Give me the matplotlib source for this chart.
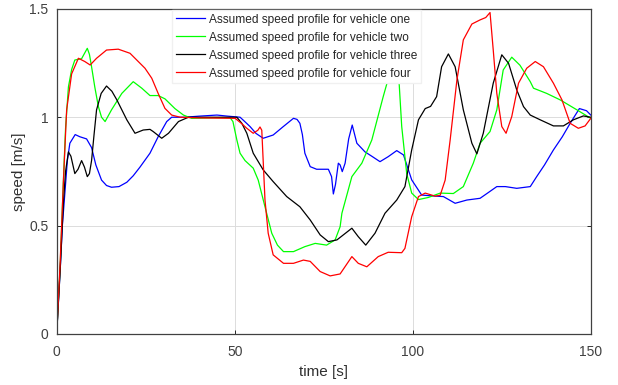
import matplotlib
matplotlib.use("Agg")
import matplotlib.pyplot as plt

plt.rcParams['font.family'] = ['Liberation Sans', 'DejaVu Sans']

labels = ["Assumed speed profile for vehicle one",
          "Assumed speed profile for vehicle two",
          "Assumed speed profile for vehicle three",
          "Assumed speed profile for vehicle four"]
colors = ["#0000ff", "#00ff00", "#000000", "#ff0000"]

t1 = [0, 1, 1.6, 2.3, 3, 3.7, 5.2, 6.5, 8.4, 9.8, 11, 12.6, 14, 15.4, 17.5, 19.7, 21.5, 23.4, 26.2, 28.5,
      30.9, 32.3, 36, 40, 45, 48, 51.5, 52.5, 54.3, 56, 58, 60.8, 63.5, 66.5, 67.5, 68.3, 69, 69.7, 71.2,
      73, 76.3, 77.2, 77.7, 78.3, 79.1, 79.6, 80.2, 81, 82, 83, 84.3, 86.6, 88.5, 90.8, 93.1, 95.5, 97.4,
      99.7, 102.5, 106.3, 108.6, 111.9, 115.2, 118.9, 121, 123.6, 126, 129.2, 133, 134.8, 137, 139.5,
      142, 144.2, 146.8, 148.8, 150]
v1 = [0, 0.3, 0.5, 0.65, 0.8, 0.88, 0.92, 0.91, 0.90, 0.86, 0.78, 0.71, 0.685, 0.677, 0.68, 0.70, 0.73,
      0.77, 0.834, 0.91, 0.98, 1.0, 1.0, 1.005, 1.01, 1.005, 1.0, 0.985, 0.957, 0.925, 0.903, 0.918, 0.955,
      0.995, 0.99, 0.972, 0.92, 0.834, 0.772, 0.76, 0.76, 0.726, 0.646, 0.69, 0.788, 0.78, 0.749, 0.788,
      0.9, 0.964, 0.88, 0.84, 0.82, 0.795, 0.818, 0.846, 0.826, 0.711, 0.641, 0.636, 0.634, 0.603, 0.618,
      0.626, 0.65, 0.68, 0.68, 0.672, 0.68, 0.726, 0.78, 0.849, 0.91, 0.972, 1.04, 1.03, 1.01]

t2 = [0, 1, 1.87, 2.5, 3.3, 4.2, 5.1, 7.0, 8.0, 8.6, 9.2, 9.8, 10.7, 11.7, 12.6, 13.6, 15.4, 18.3, 21.5,
      23.9, 26.2, 28.5, 30.4, 33.2, 35.6, 37.9, 45, 48.7, 49.5, 50.6, 51.5, 52.9, 55.2, 56.6, 58.5, 60.4,
      62, 63.7, 66.5, 69.7, 72.6, 75.8, 78.2, 79.6, 80.1, 82.9, 85.7, 88.5, 91.7, 93.5, 95.3, 96.2, 96.9,
      98.3, 99.7, 101.6, 104.4, 107.7, 111.4, 114.2, 117, 118.9, 121.7, 123.6, 125.4, 127.8, 130.1, 133,
      133.9, 137.6, 141.4, 146.1, 150]
v2 = [0, 0.32, 0.7, 0.95, 1.14, 1.22, 1.264, 1.27, 1.30, 1.318, 1.29, 1.233, 1.14, 1.05, 1.0, 0.98, 1.034,
      1.11, 1.164, 1.134, 1.10, 1.10, 1.085, 1.04, 1.01, 0.995, 0.998, 0.998, 0.98, 0.895, 0.834, 0.80,
      0.765, 0.71, 0.587, 0.465, 0.41, 0.38, 0.38, 0.403, 0.418, 0.41, 0.434, 0.495, 0.557, 0.726, 0.788,
      0.895, 1.095, 1.2, 1.25, 1.15, 0.957, 0.74, 0.65, 0.62, 0.63, 0.65, 0.648, 0.68, 0.788, 0.88, 0.934,
      1.034, 1.218, 1.277, 1.24, 1.164, 1.134, 1.11, 1.08, 1.034, 0.995]

t3 = [0, 1, 1.87, 2.5, 3.3, 4, 5.1, 6, 7.0, 7.8, 8.6, 9.2, 9.8, 10.5, 11.2, 12.5, 14.0, 15.5, 16.9, 19.7,
      22.0, 24.3, 26.2, 27.1, 29.5, 31.4, 34.2, 37, 50.6, 52, 53.4, 55.2, 58, 60.8, 64.6, 68.3, 71.2, 74,
      76.3, 78.7, 80.1, 82.9, 84.7, 86.8, 89.4, 92.2, 95.5, 97.8, 99.7, 101.6, 103.5, 105, 106.7, 108.1,
      110, 111.9, 114.2, 116.6, 118, 119.8, 122.6, 125, 126.9, 129.2, 131.1, 133, 135.8, 139.5, 142.3,
      145.1, 147.9, 150]
v3 = [0, 0.3, 0.6, 0.75, 0.84, 0.82, 0.74, 0.76, 0.80, 0.77, 0.726, 0.74, 0.80, 0.92, 1.034, 1.11, 1.144,
      1.12, 1.08, 0.988, 0.926, 0.941, 0.944, 0.934, 0.903, 0.926, 0.98, 1.0, 1.0, 0.972, 0.926, 0.834,
      0.757, 0.703, 0.634, 0.587, 0.526, 0.457, 0.426, 0.434, 0.452, 0.488, 0.449, 0.41, 0.465, 0.557,
      0.618, 0.68, 0.849, 0.988, 1.04, 1.05, 1.095, 1.233, 1.292, 1.233, 1.034, 0.88, 0.831, 0.926, 1.157,
      1.288, 1.249, 1.126, 1.049, 1.01, 0.988, 0.96, 0.96, 0.988, 1.006, 1.0]

t4 = [0, 0.93, 1.87, 2.8, 4.2, 6.1, 7.9, 9.4, 11.2, 14, 17.3, 20.6, 23.4, 24.8, 26.7, 28.5, 30.4, 32.3,
      34.7, 40, 50.1, 52, 53.4, 55.2, 56.5, 57.1, 57.6, 58.5, 59.4, 60.8, 63.7, 66.5, 69.3, 71.2, 74,
      76.8, 79.6, 82.9, 84.7, 87.1, 90.3, 93.1, 96.9, 97.8, 99.7, 101.6, 103.5, 106.3, 107.7, 109.1,
      110.5, 112.4, 114.2, 116.6, 118.9, 120.5, 121.7, 122.6, 123.6, 125, 126.2, 127.8, 129.7, 132,
      134.4, 136.7, 139.5, 141.9, 144.2, 146.5, 148.4, 150]
v4 = [0, 0.31, 0.695, 1.034, 1.2, 1.272, 1.257, 1.241, 1.272, 1.31, 1.314, 1.295, 1.249, 1.226, 1.18,
      1.11, 1.041, 1.01, 1.0, 0.997, 0.995, 0.97, 0.949, 0.926, 0.94, 0.955, 0.94, 0.618, 0.465, 0.365,
      0.326, 0.326, 0.341, 0.335, 0.288, 0.268, 0.277, 0.357, 0.326, 0.31, 0.357, 0.377, 0.375, 0.395,
      0.541, 0.634, 0.65, 0.636, 0.64, 0.71, 0.895, 1.172, 1.357, 1.43, 1.449, 1.46, 1.483, 1.31, 1.11,
      0.957, 0.926, 1.003, 1.157, 1.226, 1.257, 1.233, 1.157, 1.08, 0.972, 0.949, 0.96, 0.995]

xticks = [0, 50, 100, 150]
yticks = [0, 0.5, 1, 1.5]
ytick_labels = ["0", "0.5", "1", "1.5"]

fig = plt.figure(figsize=(6.18, 3.85), dpi=100)
ax = fig.add_axes([0.0917, 0.1325, 0.956 - 0.0917, 0.977 - 0.1325])

for t, v, c, lab in zip([t1, t2, t3, t4], [v1, v2, v3, v4], colors, labels):
    ax.plot(t, v, color=c, lw=0.9, label=lab)

ax.set_xlim(0, 150)
ax.set_ylim(0, 1.5)
ax.set_xticks(xticks)
ax.set_yticks(yticks)
ax.set_yticklabels(ytick_labels)
ax.grid(True, color='#dcdcdc', lw=0.7)
ax.set_axisbelow(True)
ax.tick_params(direction='in', top=True, right=True, length=3, width=0.7,
               labelsize=10, colors='#262626', labelcolor='#404040', pad=6)
ax.tick_params(axis='x', pad=8)
for s in ax.spines.values():
    s.set_color('#404040')
    s.set_linewidth(0.9)

ax.set_xlabel("time [s]", fontsize=11, color='#303030', labelpad=4)
ax.set_ylabel("speed [m/s]", fontsize=11, color='#303030', labelpad=2)

leg = ax.legend(loc='upper center', bbox_to_anchor=(0.449, 1.0), fontsize=8.6, frameon=True,
                fancybox=False, framealpha=1, edgecolor='#f0f0f0', handlelength=2.5,
                handletextpad=0.3, borderpad=0.3, labelspacing=0.5, borderaxespad=0.1)
leg.set_zorder(5)
for txt in leg.get_texts():
    txt.set_color('#262626')

fig.savefig("out.png", dpi=100)
